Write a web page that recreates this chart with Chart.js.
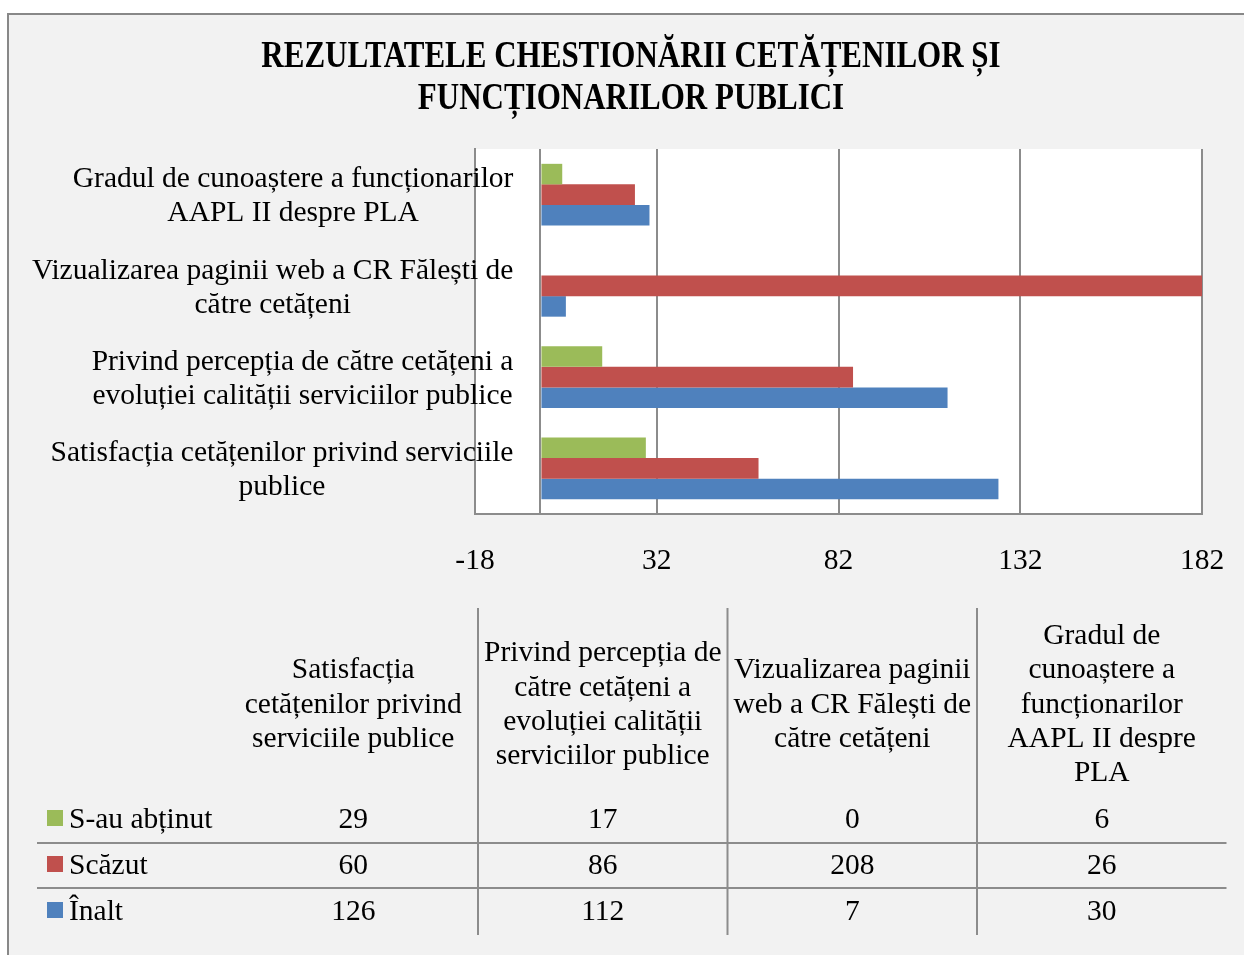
<!DOCTYPE html>
<html>
<head>
<meta charset="utf-8">
<script src="https://cdn.jsdelivr.net/npm/chart.js@4"></script>
<style>
  html, body { margin: 0; padding: 0; background: #fff; }
  canvas { display: block; }
</style>
</head>
<body>
<canvas id="surveyChart" width="1244" height="955"></canvas>
<script>
// data, in the order of the table below the chart
const categories = [
    ['Satisfacția cetățenilor privind serviciile', 'publice'],
    ['Privind percepția de către cetățeni a', 'evoluției calității serviciilor publice'],
    ['Vizualizarea paginii web a CR Fălești de', 'către cetățeni'],
    ['Gradul de cunoaștere a funcționarilor', 'AAPL II despre PLA']
];
const tableHeaders = [
    ['Satisfacția', 'cetățenilor privind', 'serviciile publice'],
    ['Privind percepția de', 'către cetățeni a', 'evoluției calității', 'serviciilor publice'],
    ['Vizualizarea paginii', 'web a CR Fălești de', 'către cetățeni'],
    ['Gradul de', 'cunoaștere a', 'funcționarilor', 'AAPL II despre', 'PLA']
];
const seriesNames = ['S-au abținut', 'Scăzut', 'Înalt'];
const abtinut = [29, 17, 0, 6];
const scazut = [60, 86, 208, 26];
const inalt = [126, 112, 7, 30];
const seriesColors = ['#9bbb59', '#c0504d', '#4f81bd'];
const xTicks = [-18, 32, 82, 132, 182];
const titleLines = ['REZULTATELE CHESTIONĂRII CETĂȚENILOR ȘI', 'FUNCȚIONARILOR PUBLICI'];

const seriesValues = [abtinut, scazut, inalt];
const gridColor = '#8c8c8c';
const textFont = '29.5px "Liberation Serif"';
const dy = 2; // 'middle' baseline sits a bit high for this font

// frame, title, category labels and data table
const extras = {
    id: 'extras',
    beforeDraw(chart) {
        const ctx = chart.ctx;
        const a = chart.chartArea;
        ctx.save();
        ctx.fillStyle = '#fff';
        ctx.fillRect(0, 0, chart.width, chart.height);
        ctx.fillStyle = '#f2f2f2';
        ctx.fillRect(8, 14, chart.width, chart.height);
        ctx.strokeStyle = '#888';
        ctx.lineWidth = 2;
        ctx.beginPath();
        ctx.moveTo(8, chart.height);
        ctx.lineTo(8, 14);
        ctx.lineTo(chart.width, 14);
        ctx.stroke();
        ctx.fillStyle = '#fff';
        ctx.fillRect(a.left, a.top, a.right - a.left, a.bottom - a.top);
        ctx.restore();
    },
    afterDraw(chart) {
        const ctx = chart.ctx;
        ctx.save();
        ctx.fillStyle = '#000';
        ctx.textBaseline = 'middle';
        ctx.textAlign = 'center';

        // title
        ctx.font = 'bold 31px "Liberation Serif"';
        titleLines.forEach((t, i) => {
            ctx.save();
            ctx.translate(631, 57 + i * 42);
            ctx.scale(1, 1.2);
            ctx.fillText(t, 0, 0);
            ctx.restore();
        });

        // category labels, right edge next to the zero line
        ctx.font = textFont;
        const yScale = chart.scales.y;
        const right = chart.scales.x.getPixelForValue(0) - 27;
        categories.forEach((lines, i) => {
            const cy = yScale.getPixelForTick(i) + dy;
            const w = Math.max(...lines.map(l => ctx.measureText(l).width));
            lines.forEach((l, j) => {
                ctx.fillText(l, right - w / 2, cy + (j - (lines.length - 1) / 2) * 34);
            });
        });

        // data table
        const colLeft = 228.5, colW = 249.5;
        const rowY = [818, 864, 910];
        ctx.strokeStyle = gridColor;
        ctx.lineWidth = 2;
        ctx.beginPath();
        for (let c = 1; c < 4; c++) {
            ctx.moveTo(colLeft + c * colW, 608);
            ctx.lineTo(colLeft + c * colW, 935);
        }
        [843, 888].forEach(y => {
            ctx.moveTo(37, y);
            ctx.lineTo(colLeft + 4 * colW, y);
        });
        ctx.stroke();

        tableHeaders.forEach((lines, c) => {
            const cx = colLeft + (c + 0.5) * colW;
            lines.forEach((l, j) => {
                ctx.fillText(l, cx, 703 + dy + (j - (lines.length - 1) / 2) * 34.3);
            });
        });
        seriesValues.forEach((vals, r) => {
            vals.forEach((v, c) => {
                ctx.fillText(String(v), colLeft + (c + 0.5) * colW, rowY[r] + dy);
            });
            ctx.fillStyle = seriesColors[r];
            ctx.fillRect(47, rowY[r] - 8, 16, 16);
            ctx.fillStyle = '#000';
            ctx.textAlign = 'left';
            ctx.fillText(seriesNames[r], 69, rowY[r] + dy);
            ctx.textAlign = 'center';
        });
        ctx.restore();
    }
};

const ctx = document.getElementById('surveyChart').getContext('2d');
const surveyChart = new Chart(ctx, {
    type: 'bar',
    data: {
        labels: categories,
        datasets: seriesNames.map((name, i) => ({
            label: name,
            data: seriesValues[i],
            backgroundColor: seriesColors[i],
            borderWidth: 0,
            barPercentage: 1,
            categoryPercentage: 0.675
        }))
    },
    options: {
        indexAxis: 'y',
        responsive: false,
        animation: false,
        devicePixelRatio: 1,
        events: [],
        layout: {
            padding: { top: 149, left: 20, right: 42, bottom: 377 }
        },
        plugins: {
            legend: { display: false },
            title: { display: false },
            tooltip: { enabled: false }
        },
        scales: {
            x: {
                min: -18,
                max: 182,
                afterBuildTicks: scale => {
                    scale.ticks = xTicks.concat(0).sort((p, q) => p - q).map(v => ({ value: v }));
                },
                afterFit: scale => {
                    scale.height = 64;
                    scale.paddingLeft = 0;
                    scale.paddingRight = 0;
                },
                grid: { color: gridColor, lineWidth: 2, drawTicks: false },
                border: { color: gridColor, width: 2 },
                ticks: {
                    autoSkip: false,
                    padding: 30,
                    color: '#000',
                    font: { family: 'Liberation Serif', size: 29.5 },
                    callback: v => v === 0 ? '' : v
                }
            },
            y: {
                reverse: true,
                afterFit: scale => { scale.width = 455; },
                grid: { display: false },
                border: { color: gridColor, width: 2 },
                ticks: { display: false }
            }
        }
    },
    plugins: [extras]
});
</script>
</body>
</html>
